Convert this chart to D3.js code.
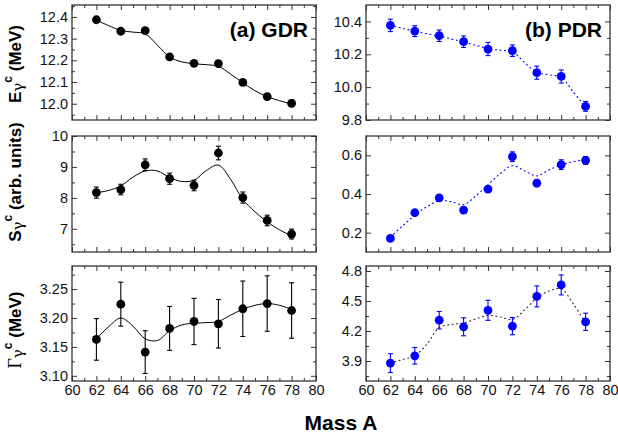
<!DOCTYPE html>
<html>
<head>
<meta charset="utf-8">
<script src="https://cdn.jsdelivr.net/npm/d3@7"></script>
<style>
  body { margin: 0; background: #fff; }
  svg { display: block; font-family: "Liberation Sans", Arial, sans-serif; }
</style>
</head>
<body>
<div id="chart"></div>
<script>
// measured points (mass number A)
const masses = [62, 64, 66, 68, 70, 72, 74, 76, 78];

const gdrEnergy = [12.387, 12.334, 12.337, 12.216, 12.186, 12.185, 12.098, 12.033, 12.002];
const gdrEnergyErr = [0.008, 0.008, 0.009, 0.01, 0.01, 0.01, 0.011, 0.012, 0.015];
const gdrStrength = [8.17, 8.27, 9.07, 8.62, 8.40, 9.45, 8.01, 7.27, 6.83];
const gdrStrengthErr = [0.18, 0.17, 0.19, 0.18, 0.17, 0.22, 0.18, 0.17, 0.16];
const gdrWidth = [3.163, 3.224, 3.141, 3.182, 3.194, 3.190, 3.216, 3.225, 3.213];
const gdrWidthErr = [0.036, 0.038, 0.037, 0.038, 0.04, 0.042, 0.048, 0.048, 0.048];

const pdrEnergy = [10.376, 10.341, 10.313, 10.277, 10.232, 10.222, 10.088, 10.065, 9.883];
const pdrEnergyErr = [0.038, 0.033, 0.035, 0.035, 0.04, 0.035, 0.04, 0.04, 0.03];
const pdrStrength = [0.170, 0.303, 0.380, 0.317, 0.425, 0.593, 0.456, 0.552, 0.574];
const pdrStrengthErr = [0.012, 0.012, 0.015, 0.012, 0.015, 0.025, 0.018, 0.025, 0.02];
const pdrWidth = [3.879, 3.952, 4.308, 4.242, 4.407, 4.249, 4.546, 4.661, 4.292];
const pdrWidthErr = [0.094, 0.083, 0.087, 0.09, 0.1, 0.086, 0.105, 0.1, 0.086];

// fitted curves, read at every mass number
const fitMasses = [62, 63, 64, 65, 66, 67, 68, 69, 70, 71, 72, 73, 74, 75, 76, 77, 78];
const gdrEnergyFit = [12.385, 12.36, 12.338, 12.33, 12.322, 12.27, 12.215, 12.193, 12.184, 12.18, 12.172, 12.137, 12.097, 12.06, 12.033, 12.014, 12.0];
const gdrStrengthFit = [8.165, 8.24, 8.385, 8.67, 8.87, 8.87, 8.66, 8.53, 8.57, 8.88, 9.06, 8.6, 7.95, 7.55, 7.22, 6.97, 6.77];
const gdrWidthFit = [3.164, 3.185, 3.2, 3.186, 3.164, 3.161, 3.178, 3.188, 3.191, 3.192, 3.194, 3.205, 3.215, 3.222, 3.225, 3.222, 3.215];
const pdrEnergyFit = [10.376, 10.358, 10.34, 10.325, 10.31, 10.293, 10.275, 10.255, 10.235, 10.225, 10.215, 10.15, 10.09, 10.075, 10.06, 9.97, 9.88];
const pdrStrengthFit = [0.177, 0.235, 0.29, 0.335, 0.365, 0.36, 0.345, 0.39, 0.447, 0.505, 0.546, 0.52, 0.494, 0.525, 0.551, 0.567, 0.58];
const pdrWidthFit = [3.88, 3.915, 3.952, 4.07, 4.235, 4.265, 4.28, 4.32, 4.355, 4.34, 4.315, 4.41, 4.53, 4.6, 4.62, 4.47, 4.28];

// tick labels
const xTicks = [60, 62, 64, 66, 68, 70, 72, 74, 76, 78, 80];
const gdrEnergyTicks = [12.0, 12.1, 12.2, 12.3, 12.4];
const gdrStrengthTicks = [7, 8, 9, 10];
const gdrWidthTicks = [3.10, 3.15, 3.20, 3.25];
const pdrEnergyTicks = [9.8, 10.0, 10.2, 10.4];
const pdrStrengthTicks = [0.2, 0.4, 0.6];
const pdrWidthTicks = [3.9, 4.2, 4.5, 4.8];

const width = 618, height = 439;
const cols = [{ left: 72, right: 316 }, { left: 366, right: 610 }];
const rows = [{ top: 5, bottom: 120 }, { top: 136, bottom: 252 }, { top: 266, bottom: 381 }];

const svg = d3.select("#chart").append("svg")
    .attr("width", width)
    .attr("height", height);

// panel table built from the arrays above
const panels = [
    { col: 0, row: 0, y: gdrEnergy, err: gdrEnergyErr, fit: gdrEnergyFit, domain: [11.925, 12.455], ticks: gdrEnergyTicks, minor: 0.05, fmt: ".1f", color: "#000", fitColor: "#000", dotted: false },
    { col: 0, row: 1, y: gdrStrength, err: gdrStrengthErr, fit: gdrStrengthFit, domain: [6.25, 10], ticks: gdrStrengthTicks, minor: 0.5, fmt: "d", color: "#000", fitColor: "#000", dotted: false },
    { col: 0, row: 2, y: gdrWidth, err: gdrWidthErr, fit: gdrWidthFit, domain: [3.091, 3.29], ticks: gdrWidthTicks, minor: 0.025, fmt: ".2f", color: "#000", fitColor: "#000", dotted: false },
    { col: 1, row: 0, y: pdrEnergy, err: pdrEnergyErr, fit: pdrEnergyFit, domain: [9.8, 10.5], ticks: pdrEnergyTicks, minor: 0.1, fmt: ".1f", color: "#0000ff", fitColor: "#0000ff", dotted: true },
    { col: 1, row: 1, y: pdrStrength, err: pdrStrengthErr, fit: pdrStrengthFit, domain: [0.1, 0.7], ticks: pdrStrengthTicks, minor: 0.1, fmt: ".1f", color: "#0000ff", fitColor: "#0000ff", dotted: true },
    { col: 1, row: 2, y: pdrWidth, err: pdrWidthErr, fit: pdrWidthFit, domain: [3.7, 4.85], ticks: pdrWidthTicks, minor: 0.15, fmt: ".1f", color: "#0000ff", fitColor: "#222", dotted: true }
];

const frameColor = "#333";

panels.forEach(p => {
    const c = cols[p.col], r = rows[p.row];
    const x = d3.scaleLinear().domain([60, 80]).range([c.left, c.right]);
    const y = d3.scaleLinear().domain(p.domain).range([r.bottom, r.top]);
    const g = svg.append("g");

    const xMinor = d3.range(61, 80, 2);
    const yMinor = d3.range(p.ticks[0] - p.minor, p.domain[1], p.minor * 2)
        .filter(v => v > p.domain[0] && v < p.domain[1]);

    // inward ticks on all four sides
    const addAxis = (axisFn, scale, vals, size, at, labels) => {
        const ax = g.append("g")
            .attr("transform", at)
            .call(axisFn(scale).tickValues(vals).tickSizeInner(-size).tickSizeOuter(0)
                .tickPadding(4)
                .tickFormat(labels ? labels : ""));
        ax.select(".domain").remove();
        ax.selectAll(".tick line").attr("stroke", frameColor).attr("stroke-width", 1);
        ax.selectAll(".tick text").attr("fill", "#111").style("font-size", "14.5px")
            .style("font-family", "'Liberation Sans', Arial, sans-serif");
        return ax;
    };

    const showX = p.row === 2;
    addAxis(d3.axisBottom, x, xTicks, 5, `translate(0,${r.bottom})`, showX ? d3.format("d") : null);
    addAxis(d3.axisBottom, x, xMinor, 3, `translate(0,${r.bottom})`, null);
    addAxis(d3.axisTop, x, xTicks, 5, `translate(0,${r.top})`, null);
    addAxis(d3.axisTop, x, xMinor, 3, `translate(0,${r.top})`, null);
    addAxis(d3.axisLeft, y, p.ticks, 5, `translate(${c.left},0)`, d3.format(p.fmt));
    addAxis(d3.axisLeft, y, yMinor, 3, `translate(${c.left},0)`, null);
    addAxis(d3.axisRight, y, p.ticks, 5, `translate(${c.right},0)`, null);
    addAxis(d3.axisRight, y, yMinor, 3, `translate(${c.right},0)`, null);

    g.append("rect")
        .attr("x", c.left).attr("y", r.top)
        .attr("width", c.right - c.left).attr("height", r.bottom - r.top)
        .attr("fill", "none").attr("stroke", frameColor).attr("stroke-width", 1.3);

    // fitted curve
    const line = d3.line()
        .x((d, i) => x(fitMasses[i]))
        .y(d => y(d))
        .curve(d3.curveCatmullRom.alpha(0.5));
    g.append("path")
        .datum(p.fit)
        .attr("d", line)
        .attr("fill", "none")
        .attr("stroke", p.fitColor)
        .attr("stroke-width", p.dotted ? 1.1 : 1)
        .attr("stroke-dasharray", p.dotted ? "1,3.5" : null)
        .attr("stroke-linecap", p.dotted ? "round" : "butt");

    // error bars
    const pts = masses.map((m, i) => ({ m, v: p.y[i], e: p.err[i] }));
    const eb = g.selectAll(".err").data(pts).enter().append("g");
    eb.append("line")
        .attr("x1", d => x(d.m)).attr("x2", d => x(d.m))
        .attr("y1", d => y(d.v - d.e)).attr("y2", d => y(d.v + d.e))
        .attr("stroke", p.color).attr("stroke-width", 1.1);
    [-1, 1].forEach(s => {
        eb.append("line")
            .attr("x1", d => x(d.m) - 2.5).attr("x2", d => x(d.m) + 2.5)
            .attr("y1", d => y(d.v + s * d.e)).attr("y2", d => y(d.v + s * d.e))
            .attr("stroke", p.color).attr("stroke-width", 1.1);
    });

    // markers
    g.selectAll(".dot").data(pts).enter().append("circle")
        .attr("cx", d => x(d.m))
        .attr("cy", d => y(d.v))
        .attr("r", 4.4)
        .attr("fill", p.color);
});

// panel labels
svg.append("text")
    .attr("x", 308).attr("y", 37)
    .attr("text-anchor", "end")
    .style("font-size", "21px").style("font-weight", "bold")
    .text("(a) GDR");
svg.append("text")
    .attr("x", 602).attr("y", 37)
    .attr("text-anchor", "end")
    .style("font-size", "21px").style("font-weight", "bold")
    .text("(b) PDR");

// x axis title
svg.append("text")
    .attr("x", 341).attr("y", 430)
    .attr("text-anchor", "middle")
    .style("font-size", "21px").style("font-weight", "bold")
    .text("Mass A");

// y axis titles (rotated)
function yTitle(cy, first, firstSerif, rest) {
    const t = svg.append("text")
        .attr("transform", `translate(21,${cy}) rotate(-90)`)
        .attr("text-anchor", "middle")
        .style("font-size", "17px").style("font-weight", "bold");
    if (firstSerif) {
        t.append("tspan").text(first)
            .style("font-family", "'Liberation Serif', 'Times New Roman', serif")
            .style("font-weight", "normal").style("font-size", "18px");
    } else {
        t.append("tspan").text(first);
    }
    t.append("tspan").text("γ").style("font-weight", "normal").style("font-size", "15px")
        .style("font-family", "'DejaVu Serif', serif").attr("dy", 2);
    t.append("tspan").text("c").style("font-size", "12px").attr("dy", -11);
    t.append("tspan").text(rest).attr("dy", 9);
}
yTitle(64, "E", false, " (MeV)");
yTitle(182, "S", false, " (arb. units)");
yTitle(330, "Γ", true, "  (MeV)");
</script>
</body>
</html>
